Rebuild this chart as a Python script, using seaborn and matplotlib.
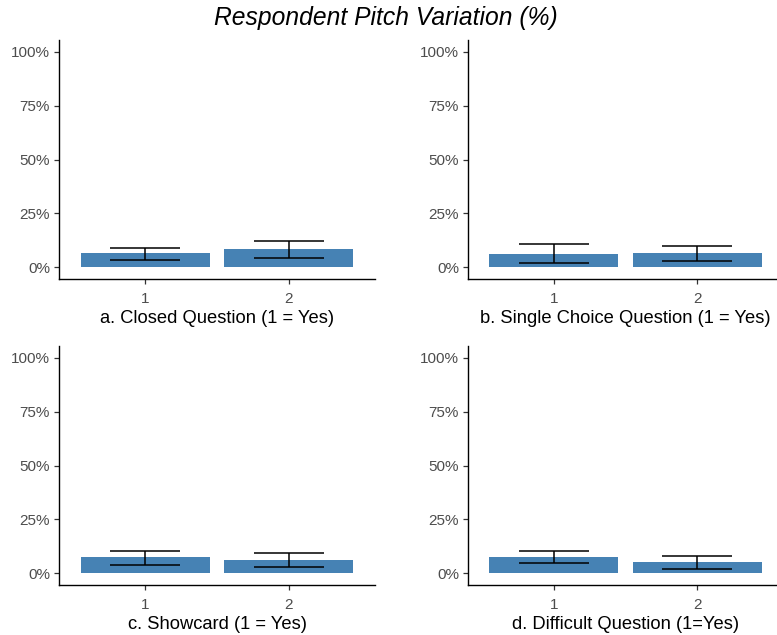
import matplotlib
matplotlib.use("Agg")
import matplotlib.pyplot as plt
import seaborn as sns
import numpy as np
import pandas as pd

sns.set_theme(style="ticks")
plt.rcParams["font.family"] = ["Liberation Sans", "DejaVu Sans"]

# Mean pitch variation (%) per group with confidence limits
groups = ["1", "2"]
panel_labels = [
    "a. Closed Question (1 = Yes)",
    "b. Single Choice Question (1 = Yes)",
    "c. Showcard (1 = Yes)",
    "d. Difficult Question (1=Yes)",
]
means = [
    [6.6, 8.3],
    [6.2, 6.6],
    [7.6, 6.0],
    [7.6, 5.4],
]
lower = [
    [3.4, 4.2],
    [1.9, 2.8],
    [4.0, 2.8],
    [4.6, 1.7],
]
upper = [
    [8.8, 12.2],
    [10.6, 10.0],
    [10.4, 9.2],
    [10.4, 8.0],
]
y_ticks = [0, 25, 50, 75, 100]
y_tick_labels = ["0%", "25%", "50%", "75%", "100%"]

W, H = 777, 635
fig = plt.figure(figsize=(W / 100, H / 100), dpi=100)

# panel boxes in pixels: left, right, top, bottom
boxes = [
    (59, 375, 40, 279),
    (468, 783, 40, 279),
    (59, 375, 346, 585),
    (468, 783, 346, 585),
]

bar_color = "#4682B4"
tick_gray = "#4D4D4D"

for i, (l, r, t, b) in enumerate(boxes):
    ax = fig.add_axes([l / W, 1 - b / H, (r - l) / W, (b - t) / H])
    df = pd.DataFrame({"group": groups, "value": means[i]})
    sns.barplot(data=df, x="group", y="value", color=bar_color, width=0.9,
                saturation=1, errorbar=None, ax=ax, edgecolor="none")
    x = np.arange(len(groups))
    m = np.array(means[i])
    lo = np.array(lower[i])
    hi = np.array(upper[i])
    ax.errorbar(x, m, yerr=[m - lo, hi - m], fmt="none", ecolor="black",
                elinewidth=1.1, capsize=25.5, capthick=1.1)
    ax.set_xlim(-0.6, 1.6)
    ax.set_ylim(-5.5, 105.5)
    ax.set_yticks(y_ticks)
    ax.set_yticklabels(y_tick_labels)
    ax.set_ylabel("")
    ax.set_xlabel(panel_labels[i], fontsize=13.2, color="black", labelpad=3)
    for s in ["top", "right"]:
        ax.spines[s].set_visible(False)
    for s in ["left", "bottom"]:
        ax.spines[s].set_linewidth(1.0)
        ax.spines[s].set_color("black")
    ax.tick_params(axis="both", length=3.5, width=0.9, color="#333333",
                   labelcolor=tick_gray, labelsize=11, pad=3)
    ax.tick_params(axis="x", pad=6)
    ax.set_facecolor("white")

fig.text(0.496, 1 - 18 / H, "Respondent Pitch Variation (%)", ha="center",
         va="center", fontsize=17.7, style="italic", color="black")

fig.savefig("out.png", dpi=100, facecolor="white")
